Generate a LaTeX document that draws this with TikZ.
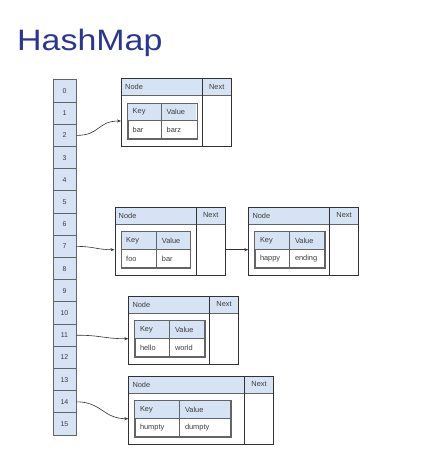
\documentclass[tikz,border=0pt]{standalone}
\usepackage{fontspec}
\setmainfont{Liberation Sans}
\usetikzlibrary{arrows.meta}
\definecolor{titleblue}{RGB}{43,55,140}
\definecolor{cellblue}{RGB}{214,227,245}
\definecolor{linedark}{RGB}{50,50,50}
\definecolor{linegray}{RGB}{100,100,100}
\definecolor{txt}{RGB}{60,60,60}
\tikzset{
  arrcell/.style={draw=linegray, line width=0.9pt, fill=cellblue, minimum width=23pt, minimum height=22.2pt, inner sep=0pt, font=\fontsize{7}{8}\selectfont, text=txt},
  outerbox/.style={draw=linedark, line width=0.8pt, inner sep=0pt, anchor=north west},
  innerbox/.style={draw=linegray, line width=0.8pt, inner sep=0pt, anchor=north west},
  lbl/.style={font=\fontsize{7.4}{8}\selectfont, text=txt, inner sep=0pt},
  conn/.style={draw=linedark, line width=0.6pt, -{Stealth[length=4pt,width=3pt]}},
}
% #1 name, #2 x, #3 y, #4 W, #5 inner W, #6 key W, #7 key, #8 value
\newcommand\hmbox[8]{%
  \begin{scope}[shift={(#2,#3)}]
    \fill[cellblue] (0,0) rectangle (#4,17.5);
    \draw[linegray, line width=0.6pt] (0,17.5) -- (#4,17.5);
    \draw[linedark, line width=0.8pt] (#4-28.5,0) -- (#4-28.5,68);
    \node[outerbox, minimum width=#4, minimum height=68] (#1) at (0,0) {};
    \node[lbl, anchor=west] (#1node) at (4,8.75) {Node};
    \node[lbl] (#1next) at (#4-14.25,8.75) {Next};
    \fill[black!25] (7.5,26) rectangle (7.5+#5,26+35.5);
    \node[innerbox, fill=white, minimum width=#5, minimum height=35.5] (#1t) at (6.5,25) {};
    \fill[cellblue] (6.9,25.4) rectangle (6.1+#5,25+17.5);
    \draw[linegray, line width=0.6pt] (6.5,25+17.5) -- (6.5+#5,25+17.5);
    \draw[linegray, line width=0.8pt] (6.5+#6,25) -- (6.5+#6,60.5);
    \draw[linegray, line width=0.8pt] (#1t.north west) rectangle (#1t.south east);
    \node[lbl, anchor=west] (#1k) at (11.5,33.75) {Key};
    \node[lbl, anchor=west] (#1v) at (11.5+#6,33.75) {Value};
    \node[lbl, anchor=west] (#1kv) at (11.5,51.75) {#7};
    \node[lbl, anchor=west] (#1vv) at (11.5+#6,51.75) {#8};
    \coordinate (#1in) at (0,43);
    \coordinate (#1out) at (#4,43);
  \end{scope}}
\begin{document}
\begin{tikzpicture}[x=1pt,y=-1pt]
\useasboundingbox[fill=white] (0,0) rectangle (436,457);
\node[anchor=base west, inner sep=0pt, text=titleblue, font=\fontsize{29.5}{32}\selectfont, xscale=1.15] (title) at (17,51) {HashMap};
\foreach \i in {0,...,15} {
  \node[arrcell] (c\i) at (64.5,91+22.2*\i) {\i};
}
\hmbox{b1}{121}{78}{110}{69.3}{34}{bar}{barz}
\hmbox{b2}{114.5}{206.7}{110.5}{69}{35.7}{foo}{bar}
\hmbox{b3}{248.3}{206.7}{110}{69.3}{35}{happy}{ending}
\hmbox{b4}{128.3}{295.7}{110}{69.3}{35}{hello}{world}
\hmbox{b5}{128.3}{375.7}{145}{95.3}{45}{humpty}{dumpty}
\draw[conn] (c2.east) .. controls +(24,0) and +(-24,0) .. (b1in);
\draw[conn] (c7.east) .. controls +(18,0) and +(-18,0) .. (b2in);
\draw[conn] (b2out) -- (b3in);
\draw[conn] (c11.east) .. controls +(25,0) and +(-25,0) .. (b4in);
\draw[conn] (c14.east) .. controls +(25,0) and +(-25,0) .. (b5in);
\end{tikzpicture}
\end{document}
